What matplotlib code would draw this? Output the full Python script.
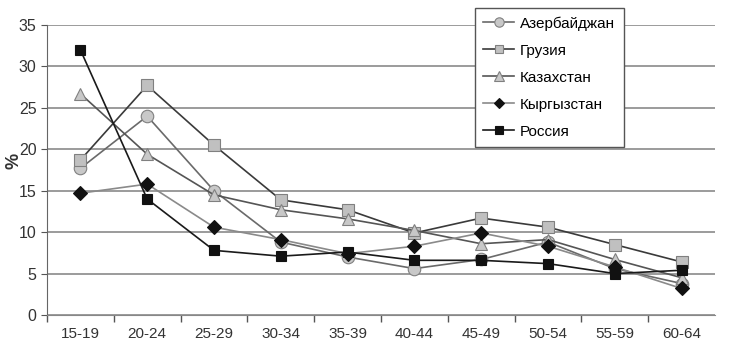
import matplotlib
matplotlib.use("Agg")
import matplotlib.pyplot as plt

plt.rcParams['font.family'] = ['Liberation Sans Narrow', 'Liberation Sans', 'DejaVu Sans']

categories = ["15-19", "20-24", "25-29", "30-34", "35-39", "40-44", "45-49", "50-54", "55-59", "60-64"]
azerbaijan = [17.7, 24.0, 15.0, 8.8, 7.0, 5.6, 6.7, 8.8, 5.6, 3.8]
georgia = [18.7, 27.7, 20.5, 13.9, 12.7, 9.9, 11.7, 10.6, 8.5, 6.4]
kazakhstan = [26.7, 19.4, 14.5, 12.7, 11.6, 10.2, 8.6, 9.1, 6.7, 4.5]
kyrgyzstan = [14.7, 15.8, 10.6, 9.1, 7.4, 8.3, 9.9, 8.3, 5.8, 3.2]
russia = [32.0, 14.0, 7.8, 7.1, 7.6, 6.6, 6.6, 6.2, 5.0, 5.4]

series = [
    ("Азербайджан", azerbaijan, dict(marker='o', color='#6a6a6a', mfc='#c8c8c8', mec='#808080', ms=9)),
    ("Грузия", georgia, dict(marker='s', color='#3a3a3a', mfc='#c0c0c0', mec='#808080', ms=8)),
    ("Казахстан", kazakhstan, dict(marker='^', color='#555555', mfc='#c8c8c8', mec='#808080', ms=9)),
    ("Кыргызстан", kyrgyzstan, dict(marker='D', color='#8a8a8a', mfc='#111111', mec='#111111', ms=7)),
    ("Россия", russia, dict(marker='s', color='#1a1a1a', mfc='#111111', mec='#111111', ms=7.5)),
]

fig = plt.figure(figsize=(7.42, 3.54), dpi=100)
ax = fig.add_axes([47/742, 1-315/354, (715-47)/742, (315-25)/354])

x = list(range(len(categories)))
for name, vals, st in series:
    ax.plot(x, vals, label=name, lw=1.2, mew=0.8, **st, zorder=3)

ax.set_ylim(0, 35)
ax.set_xlim(-0.5, len(categories) - 0.5)
ax.set_yticks(range(0, 36, 5))
ax.set_xticks(x)
ax.set_xticklabels(categories, fontsize=11, color='#333333')
ax.set_xticks([i + 0.5 for i in x[:-1]] + [-0.5], minor=True)
ax.tick_params(axis='x', which='major', length=0, pad=9)
ax.tick_params(axis='x', which='minor', length=5, color='#555555', width=1)
ax.tick_params(axis='y', labelsize=11.5, labelcolor='#333333', length=4, color='#555555')
ax.yaxis.grid(True, color='#8a8a8a', lw=1.2)
ax.set_axisbelow(True)
for s in ['top', 'right']:
    ax.spines[s].set_visible(False)
ax.spines['left'].set_color('#666666')
ax.spines['bottom'].set_color('#888888')
ax.set_ylabel('%', fontsize=13, fontweight='bold', color='#333333')
ax.yaxis.set_label_coords(-0.036, 0.53)

leg = fig.legend(loc='upper left', bbox_to_anchor=(475/742, 1-8/354), fontsize=11,
                 frameon=True, fancybox=False, edgecolor='#555555', framealpha=1,
                 handlelength=2.0, labelspacing=0.85, borderpad=0.55, handletextpad=0.4,
                 borderaxespad=0, markerscale=0.75)
leg.get_frame().set_linewidth(1.0)

fig.savefig('out.png', dpi=100)
